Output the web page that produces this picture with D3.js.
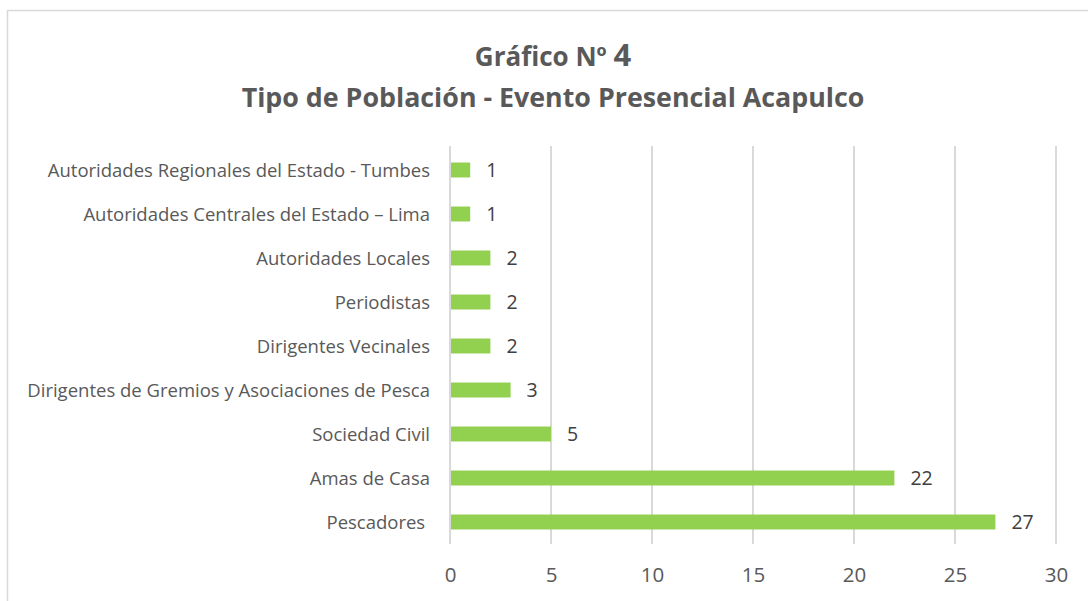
<!DOCTYPE html>
<meta charset="utf-8">
<style>
body { margin: 0; background: #fff; }
text { font-family: "Open Sans", Lato, sans-serif; }
.title { font-weight: bold; fill: #595959; text-anchor: middle; }
.cat { font-size: 18.5px; fill: #595959; text-anchor: end; white-space: pre; }
.val { font-size: 19.5px; fill: #404040; }
.tick text { font-size: 20.5px; fill: #595959; font-family: "Open Sans", sans-serif; }
</style>
<body>
<script src="https://d3js.org/d3.v7.min.js"></script>
<script>

var categories = ["Autoridades Regionales del Estado - Tumbes", "Autoridades Centrales del Estado \u2013 Lima",
  "Autoridades Locales", "Periodistas", "Dirigentes Vecinales",
  "Dirigentes de Gremios y Asociaciones de Pesca", "Sociedad Civil", "Amas de Casa", "Pescadores\u00a0"];
var values = [1, 1, 2, 2, 2, 3, 5, 22, 27];
var ticks = [0, 5, 10, 15, 20, 25, 30];

var width = 1088, height = 601;

var svg = d3.select("body").append("svg")
    .attr("width", width)
    .attr("height", height);

// chart frame
svg.append("rect")
    .attr("x", 7.5).attr("y", 10.5)
    .attr("width", 1100).attr("height", 620)
    .attr("fill", "none").attr("stroke", "#d9d9d9").attr("stroke-width", 1.5);

var x = d3.scaleLinear().domain([0, 30]).range([450, 1056]);
var y = d3.scaleBand().domain(categories).range([148, 544]).paddingInner(0.66).paddingOuter(0.33);

// gridlines
svg.append("g").selectAll("line")
    .data(ticks)
  .enter().append("line")
    .attr("x1", function(d) { return x(d); })
    .attr("x2", function(d) { return x(d); })
    .attr("y1", 146).attr("y2", 544)
    .attr("stroke", "#d9d9d9").attr("stroke-width", 2);

svg.append("g")
    .attr("transform", "translate(0,567)")
    .call(d3.axisBottom(x).tickValues(ticks).tickSize(0).tickPadding(0))
    .call(function(g) { g.select(".domain").remove(); })
    .selectAll("text").attr("dy", "0.71em");

svg.append("g").selectAll("rect")
    .data(values)
  .enter().append("rect")
    .attr("x", x(0) + 1)
    .attr("y", function(d, i) { return y(categories[i]); })
    .attr("width", function(d) { return x(d) - x(0) - 1; })
    .attr("height", y.bandwidth())
    .attr("fill", "#92d050");

svg.append("g").selectAll("text")
    .data(values)
  .enter().append("text")
    .attr("class", "val")
    .attr("x", function(d) { return x(d) + 16; })
    .attr("y", function(d, i) { return y(categories[i]) + y.bandwidth() / 2; })
    .attr("dy", "0.36em")
    .text(function(d) { return d; });

svg.append("g").selectAll("text")
    .data(categories)
  .enter().append("text")
    .attr("class", "cat")
    .attr("x", 430)
    .attr("y", function(d) { return y(d) + y.bandwidth() / 2; })
    .attr("dy", "0.36em")
    .text(function(d) { return d; });

var t1 = svg.append("text").attr("class", "title")
    .attr("x", 553).attr("y", 66).style("font-size", "26px");
t1.append("tspan").text("Gr\u00e1fico N\u00ba ");
t1.append("tspan").style("font-size", "31px").text("4");

svg.append("text").attr("class", "title")
    .attr("x", 553).attr("y", 107).style("font-size", "26.8px")
    .text("Tipo de Poblaci\u00f3n - Evento Presencial Acapulco");

</script>
